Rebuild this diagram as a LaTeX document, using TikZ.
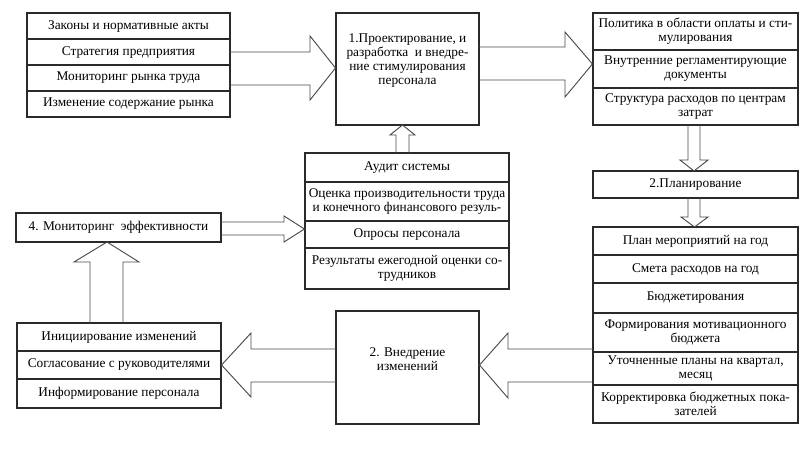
\documentclass[tikz,border=0pt]{standalone}
\usepackage{fontspec}
\setmainfont{Liberation Serif}
\newcommand\fs{\fontsize{10}{10.5}\selectfont}
\definecolor{boxc}{HTML}{2A2A2A}
\definecolor{arrc}{HTML}{4A4A4A}
\begin{document}
\begin{tikzpicture}[x=0.75pt,y=-0.75pt,
  rowbox/.style 2 args={draw=boxc, line width=0.8pt, minimum width=#1*0.75pt,
    minimum height=#2*0.75pt, inner sep=0pt, align=center, font=\fs},
  txt/.style={inner sep=0pt, align=center, font=\fs},
  barrow/.style={draw=arrc, line width=0.7pt, line join=miter}]
\useasboundingbox (0,0) rectangle (800,465);
% ---- top-left list
\node[rowbox={203}{26}] (L1) at (128.5,26) {Законы и нормативные акты};
\node[rowbox={203}{26}] (L2) at (128.5,52) {Стратегия предприятия};
\node[rowbox={203}{26}] (L3) at (128.5,78) {Мониторинг рынка труда};
\node[rowbox={203}{26}] (L4) at (128.5,104) {Изменение содержание рынка};
% ---- box 1
\node[rowbox={143}{112}] (P1) at (407.5,69) {};
\node[txt] (P1t) at (407.5,61) {1.Проектирование, и\\разработка\ \ и внедре-\\ние стимулирования\\персонала};
% ---- top-right list
\node[rowbox={205}{37}] (R1) at (695.5,31.5) {Политика в области оплаты и сти-\\мулирования};
\node[rowbox={205}{38}] (R2) at (695.5,69) {Внутренние регламентирующие\\документы};
\node[rowbox={205}{37}] (R3) at (695.5,106.5) {Структура расходов по центрам\\затрат};
% ---- planning
\node[rowbox={205}{27}] (PL) at (695.5,184.5) {2.Планирование};
% ---- bottom-right list
\node[rowbox={205}{28}] (B1) at (695.5,241) {План мероприятий на год};
\node[rowbox={205}{28}] (B2) at (695.5,269) {Смета расходов на год};
\node[rowbox={205}{30}] (B3) at (695.5,298) {Бюджетирования};
\node[rowbox={205}{39}] (B4) at (695.5,332.5) {Формирования мотивационного\\бюджета};
\node[rowbox={205}{33}] (B5) at (695.5,368.5) {Уточненные планы на квартал,\\месяц};
\node[rowbox={205}{38}] (B6) at (695.5,404) {Корректировка бюджетных пока-\\зателей};
% ---- implementation
\node[rowbox={143}{113}] (V) at (407.5,367.5) {};
\node[txt] (Vt) at (407.5,359) {2. Внедрение\\изменений};
% ---- bottom-left list
\node[rowbox={204}{28}] (C1) at (119,337) {Инициирование изменений};
\node[rowbox={204}{28}] (C2) at (119,365) {Согласование с руководителями};
\node[rowbox={204}{29}] (C3) at (119,393.5) {Информирование персонала};
% ---- monitoring
\node[rowbox={205}{29}] (M) at (118.5,227.5) {4. Мониторинг\ \ эффективности};
% ---- audit
\node[rowbox={204}{29}] (A1) at (407,167.5) {Аудит системы};
\node[rowbox={204}{39}] (A2) at (407,201.5) {Оценка производительности труда\\и конечного финансового резуль-};
\node[rowbox={204}{27}] (A3) at (407,234.5) {Опросы персонала};
\node[rowbox={204}{41}] (A4) at (407,268.5) {Результаты ежегодной оценки со-\\трудников};
% ---- block arrows
% left list -> box 1
\draw[barrow] (230,52) -- (310,52) -- (310,36) -- (P1.west |- 0,68) -- (310,100) -- (310,85) -- (230,85);
% box 1 -> top-right list
\draw[barrow] (479,47) -- (565,47) -- (565,32) -- (R2.west |- 0,64) -- (565,97) -- (565,80) -- (479,80);
% top-right list -> planning
\draw[barrow] (688,125) -- (688,160) -- (680,160) -- (694,171) -- (708,160) -- (700,160) -- (700,125);
% planning -> bottom-right list
\draw[barrow] (688,198) -- (688,217) -- (681,217) -- (694.5,227) -- (708,217) -- (700,217) -- (700,198);
% bottom-right list -> implementation
\draw[barrow] (593,349) -- (508,349) -- (508,333) -- (V.east |- 0,365) -- (508,398) -- (508,382) -- (593,382);
% implementation -> bottom-left list
\draw[barrow] (336,349) -- (251,349) -- (251,333) -- (C2.east) -- (251,397) -- (251,382) -- (336,382);
% bottom-left list -> monitoring
\draw[barrow] (90,323) -- (90,262) -- (74,262) -- (107,242) -- (139,262) -- (123,262) -- (123,323);
% monitoring -> audit
\draw[barrow] (221,222) -- (284,222) -- (284,216) -- (A3.west |- 0,229) -- (284,242) -- (284,235) -- (221,235);
% audit -> box 1
\draw[barrow] (396,153) -- (396,135) -- (390,135) -- (402.5,125) -- (415,135) -- (409,135) -- (409,153);
\end{tikzpicture}
\end{document}
